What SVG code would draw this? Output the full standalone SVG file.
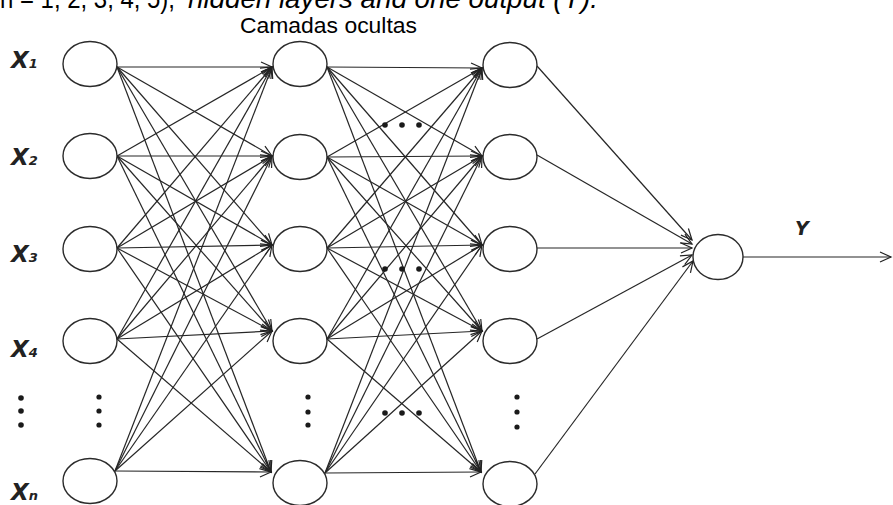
<svg xmlns="http://www.w3.org/2000/svg" width="893" height="505" viewBox="0 0 893 505">
  <style>
    .node ellipse { fill: #ffffff; stroke: #2b2b2b; stroke-width: 1.4; }
    .edges line { stroke: #262626; stroke-width: 1.2; marker-end: url(#arrow); }
    .lbl { font-family: "DejaVu Sans", Verdana, sans-serif; font-weight: bold; font-style: italic; fill: #222; }
    .lbl .sub { font-size: 13px; }
    .dot { fill: #1a1a1a; }
    .title { font-family: "Liberation Sans", Arial, sans-serif; fill: #000; }
  </style>
  <defs>
    <marker id="arrow" markerUnits="userSpaceOnUse" markerWidth="14" markerHeight="12" refX="12" refY="6" orient="auto" viewBox="0 0 14 12">
      <path d="M1,1 L12,6 L1,11" fill="none" stroke="#222" stroke-width="1.2"/>
    </marker>
  </defs>

  <rect width="893" height="505" fill="#ffffff"/>

  <!-- caption line running off the top edge -->
  <text class="title" x="0" y="8" font-size="28" textLength="175" lengthAdjust="spacingAndGlyphs">n = 1, 2, 3, 4, 5),</text>
  <text class="title" x="188" y="8" font-size="28" font-style="italic" textLength="410" lengthAdjust="spacingAndGlyphs">hidden layers and one output (Y).</text>

  <text class="title" x="240" y="33" font-size="21.5" textLength="177" lengthAdjust="spacingAndGlyphs">Camadas ocultas</text>

  <!-- connectors -->
  <g id="connectors" class="edges">
    <!-- input -> hidden 1 -->
    <line x1="117" y1="67" x2="272" y2="67"/>
    <line x1="117" y1="67" x2="272" y2="156"/>
    <line x1="117" y1="67" x2="272" y2="245"/>
    <line x1="117" y1="67" x2="272" y2="331"/>
    <line x1="117" y1="67" x2="271" y2="472"/>
    <line x1="117" y1="156" x2="272" y2="67"/>
    <line x1="117" y1="156" x2="272" y2="156"/>
    <line x1="117" y1="156" x2="272" y2="245"/>
    <line x1="117" y1="156" x2="272" y2="331"/>
    <line x1="117" y1="156" x2="271" y2="472"/>
    <line x1="117" y1="248" x2="272" y2="67"/>
    <line x1="117" y1="248" x2="272" y2="156"/>
    <line x1="117" y1="248" x2="272" y2="245"/>
    <line x1="117" y1="248" x2="272" y2="331"/>
    <line x1="117" y1="248" x2="271" y2="472"/>
    <line x1="117" y1="339" x2="272" y2="67"/>
    <line x1="117" y1="339" x2="272" y2="156"/>
    <line x1="117" y1="339" x2="272" y2="245"/>
    <line x1="117" y1="339" x2="272" y2="331"/>
    <line x1="117" y1="339" x2="271" y2="472"/>
    <line x1="115" y1="471" x2="272" y2="67"/>
    <line x1="115" y1="471" x2="272" y2="156"/>
    <line x1="115" y1="471" x2="272" y2="245"/>
    <line x1="115" y1="471" x2="272" y2="331"/>
    <line x1="115" y1="471" x2="271" y2="472"/>
    <!-- hidden 1 -> hidden 2 -->
    <line x1="327" y1="67" x2="482" y2="68"/>
    <line x1="327" y1="67" x2="482" y2="156"/>
    <line x1="327" y1="67" x2="482" y2="245"/>
    <line x1="327" y1="67" x2="482" y2="331"/>
    <line x1="327" y1="67" x2="481" y2="472"/>
    <line x1="327" y1="157" x2="482" y2="68"/>
    <line x1="327" y1="157" x2="482" y2="156"/>
    <line x1="327" y1="157" x2="482" y2="245"/>
    <line x1="327" y1="157" x2="482" y2="331"/>
    <line x1="327" y1="157" x2="481" y2="472"/>
    <line x1="327" y1="248" x2="482" y2="68"/>
    <line x1="327" y1="248" x2="482" y2="156"/>
    <line x1="327" y1="248" x2="482" y2="245"/>
    <line x1="327" y1="248" x2="482" y2="331"/>
    <line x1="327" y1="248" x2="481" y2="472"/>
    <line x1="327" y1="339" x2="482" y2="68"/>
    <line x1="327" y1="339" x2="482" y2="156"/>
    <line x1="327" y1="339" x2="482" y2="245"/>
    <line x1="327" y1="339" x2="482" y2="331"/>
    <line x1="327" y1="339" x2="481" y2="472"/>
    <line x1="325" y1="473" x2="482" y2="68"/>
    <line x1="325" y1="473" x2="482" y2="156"/>
    <line x1="325" y1="473" x2="482" y2="245"/>
    <line x1="325" y1="473" x2="482" y2="331"/>
    <line x1="325" y1="473" x2="481" y2="472"/>
    <!-- hidden 2 -> output -->
    <line x1="537" y1="66" x2="692" y2="240"/>
    <line x1="537" y1="155" x2="692" y2="244"/>
    <line x1="537" y1="248" x2="692" y2="248"/>
    <line x1="537" y1="339" x2="692" y2="255"/>
    <line x1="535" y1="474" x2="693" y2="261"/>
    <!-- output -> Y -->
    <line x1="743" y1="257" x2="891" y2="257"/>
  </g>

  <!-- input layer -->
  <g id="in1" class="node"><ellipse cx="90" cy="64" rx="27" ry="22.5"/></g>
  <g id="in2" class="node"><ellipse cx="90" cy="156" rx="27" ry="22.5"/></g>
  <g id="in3" class="node"><ellipse cx="90" cy="249" rx="27" ry="22.5"/></g>
  <g id="in4" class="node"><ellipse cx="90" cy="341" rx="27" ry="22.5"/></g>
  <g id="inN" class="node"><ellipse cx="90" cy="481" rx="27" ry="22.5"/></g>

  <!-- hidden layer 1 -->
  <g id="h1a" class="node"><ellipse cx="300" cy="64" rx="27" ry="22.5"/></g>
  <g id="h1b" class="node"><ellipse cx="300" cy="157" rx="27" ry="22.5"/></g>
  <g id="h1c" class="node"><ellipse cx="300" cy="249" rx="27" ry="22.5"/></g>
  <g id="h1d" class="node"><ellipse cx="300" cy="341" rx="27" ry="22.5"/></g>
  <g id="h1n" class="node"><ellipse cx="300" cy="483" rx="27" ry="22.5"/></g>

  <!-- hidden layer 2 -->
  <g id="h2a" class="node"><ellipse cx="510" cy="65" rx="27" ry="22.5"/></g>
  <g id="h2b" class="node"><ellipse cx="510" cy="157" rx="27" ry="22.5"/></g>
  <g id="h2c" class="node"><ellipse cx="510" cy="249" rx="27" ry="22.5"/></g>
  <g id="h2d" class="node"><ellipse cx="510" cy="341" rx="27" ry="22.5"/></g>
  <g id="h2n" class="node"><ellipse cx="510" cy="484" rx="27" ry="22.5"/></g>

  <!-- output -->
  <g id="out" class="node"><ellipse cx="718" cy="257" rx="25" ry="22.5"/></g>

  <!-- vertical ellipsis dots -->
  <g id="vdots">
    <circle class="dot" cx="21" cy="398" r="2.8"/>
    <circle class="dot" cx="21" cy="411" r="2.8"/>
    <circle class="dot" cx="21" cy="425" r="2.8"/>
    <circle class="dot" cx="99" cy="397" r="2.6"/>
    <circle class="dot" cx="99" cy="411" r="2.6"/>
    <circle class="dot" cx="99" cy="425" r="2.6"/>
    <circle class="dot" cx="308" cy="397" r="2.6"/>
    <circle class="dot" cx="308" cy="412" r="2.6"/>
    <circle class="dot" cx="308" cy="425" r="2.6"/>
    <circle class="dot" cx="517" cy="397" r="2.6"/>
    <circle class="dot" cx="517" cy="412" r="2.6"/>
    <circle class="dot" cx="517" cy="427" r="2.6"/>
  </g>

  <!-- horizontal ellipsis dots between hidden layers -->
  <g id="hdots">
    <circle class="dot" cx="385" cy="125" r="2.8"/>
    <circle class="dot" cx="402" cy="125" r="2.8"/>
    <circle class="dot" cx="419" cy="125" r="2.8"/>
    <circle class="dot" cx="385" cy="269" r="2.8"/>
    <circle class="dot" cx="402" cy="269" r="2.8"/>
    <circle class="dot" cx="419" cy="269" r="2.8"/>
    <circle class="dot" cx="385" cy="413" r="2.8"/>
    <circle class="dot" cx="402" cy="413" r="2.8"/>
    <circle class="dot" cx="419" cy="413" r="2.8"/>
  </g>

  <!-- input labels -->
  <g id="labels">
    <text class="lbl" x="11" y="68" font-size="23">X<tspan class="sub">1</tspan></text>
    <text class="lbl" x="11" y="165" font-size="23">X<tspan class="sub">2</tspan></text>
    <text class="lbl" x="11" y="262" font-size="23">X<tspan class="sub">3</tspan></text>
    <text class="lbl" x="11" y="357" font-size="23">X<tspan class="sub">4</tspan></text>
    <text class="lbl" x="11" y="500" font-size="23">X<tspan class="sub">n</tspan></text>
    <text class="lbl" x="795" y="235" font-size="19">Y</text>
  </g>
</svg>
